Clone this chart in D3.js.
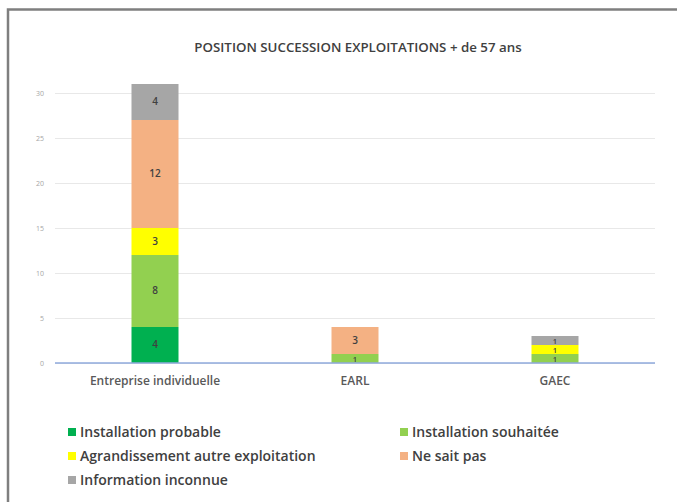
<!DOCTYPE html>
<html>
<head>
<meta charset="utf-8">
<script src="https://cdn.jsdelivr.net/npm/d3@7"></script>
<style>
  body { margin: 0; background: #fff; }
  svg { display: block; font-family: "Open Sans", sans-serif; }
</style>
</head>
<body>
<div id="chart"></div>
<script>
const categories = ["Entreprise individuelle", "EARL", "GAEC"];
const seriesNames = ["Installation probable", "Installation souhaitée", "Agrandissement autre exploitation", "Ne sait pas", "Information inconnue"];
const installationProbable = [4, 0, 0];
const installationSouhaitee = [8, 1, 1];
const agrandissement = [3, 0, 1];
const neSaitPas = [12, 3, 0];
const informationInconnue = [4, 0, 1];
const yTicks = [0, 5, 10, 15, 20, 25, 30];
const colors = ["#00b050", "#92d050", "#ffff00", "#f4b183", "#a6a6a6"];

const W = 677, H = 502;
const margin = { top: 93, right: 22, bottom: 139, left: 55 };
const width = W - margin.left - margin.right,
  height = H - margin.top - margin.bottom;

const svg = d3.select("#chart").append("svg").attr("width", W).attr("height", H);

// frame
svg.append("path").attr("d", `M8,${H} V9.5 H${W}`)
  .attr("fill", "none").attr("stroke", "#7f7f7f").attr("stroke-width", 2.5);

svg.append("text").attr("x", 358).attr("y", 52).attr("text-anchor", "middle")
  .attr("font-size", 13.3).attr("font-weight", 600).attr("fill", "#404040")
  .text("POSITION SUCCESSION EXPLOITATIONS + de 57 ans");

const g = svg.append("g").attr("transform", `translate(${margin.left},${margin.top})`);

const x = d3.scaleBand().domain(categories).range([0, width]).paddingInner(0.765).paddingOuter(0.3825);
const y = d3.scaleLinear().domain([0, 30]).range([height, 0]);

// gridlines + y labels
g.append("g").call(d3.axisLeft(y).tickValues(yTicks).tickSize(-width).tickPadding(11))
  .attr("font-family", "Open Sans, sans-serif")
  .call(a => a.select(".domain").remove())
  .call(a => a.selectAll(".tick line").attr("stroke", "#e8e8e8"))
  .call(a => a.selectAll(".tick text").attr("fill", "#a6a6a6").attr("font-size", 7));

const rows = categories.map((c, i) => ({
  cat: c,
  s0: installationProbable[i], s1: installationSouhaitee[i], s2: agrandissement[i],
  s3: neSaitPas[i], s4: informationInconnue[i]
}));
const stack = d3.stack().keys(["s0", "s1", "s2", "s3", "s4"])(rows);

stack.forEach((layer, k) => {
  const lg = g.append("g");
  lg.selectAll("rect").data(layer).join("rect")
    .attr("x", d => x(d.data.cat)).attr("width", x.bandwidth())
    .attr("y", d => y(d[1])).attr("height", d => y(d[0]) - y(d[1]))
    .attr("fill", colors[k]);
  lg.selectAll("text").data(layer.filter(d => d[1] - d[0] > 0)).join("text")
    .attr("x", d => x(d.data.cat) + x.bandwidth() / 2)
    .attr("y", d => (y(d[0]) + y(d[1])) / 2 + 3)
    .attr("text-anchor", "middle")
    .attr("font-size", d => (y(d[0]) - y(d[1]) < 12 ? 7.5 : 10)).attr("font-weight", 600)
    .attr("fill", "#404040").text(d => d[1] - d[0]);
});

// baseline + category axis
g.append("line").attr("x1", 0).attr("x2", width).attr("y1", y(0)).attr("y2", y(0))
  .attr("stroke", "#8faadc").attr("stroke-width", 1.5);
g.append("g").attr("transform", `translate(0,${height})`)
  .call(d3.axisBottom(x).tickSize(0).tickPadding(13))
  .attr("font-family", "Open Sans, sans-serif")
  .call(a => a.select(".domain").remove())
  .call(a => a.selectAll(".tick text").attr("fill", "#595959").attr("font-size", 12).attr("font-weight", 600));

// legend
const legendPos = [[68, 432], [400, 432], [68, 456], [400, 456], [68, 480]];
const leg = svg.append("g");
seriesNames.forEach((name, i) => {
  const [lx, ly] = legendPos[i];
  leg.append("rect").attr("x", lx).attr("y", ly - 4).attr("width", 8).attr("height", 8).attr("fill", colors[i]);
  leg.append("text").attr("x", lx + 12).attr("y", ly + 5).attr("font-size", 14).attr("font-weight", 600)
    .attr("fill", "#404040").text(name);
});
</script>
</body>
</html>
